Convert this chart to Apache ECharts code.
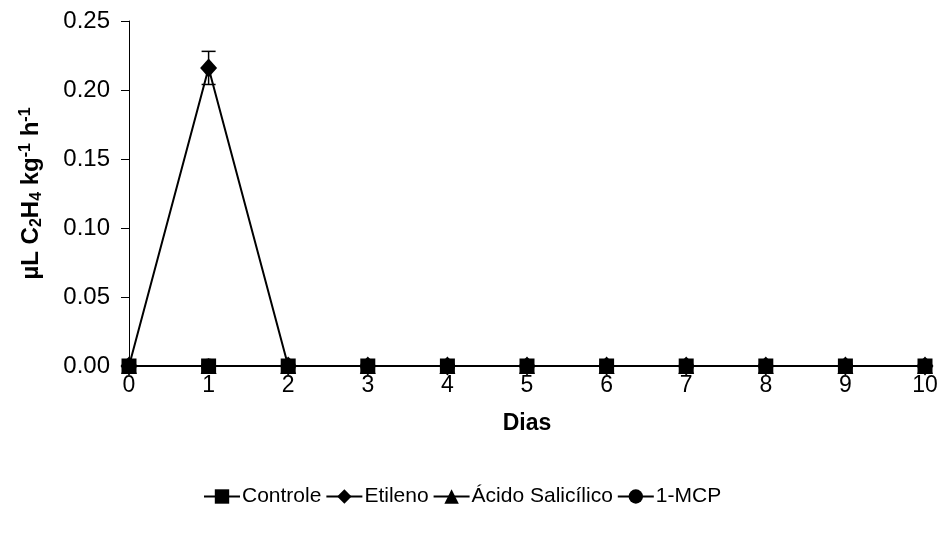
<!DOCTYPE html>
<html>
<head>
<meta charset="utf-8">
<script src="https://cdn.jsdelivr.net/npm/echarts@6/dist/echarts.min.js"></script>
<style>
  html, body { margin: 0; padding: 0; background: #fff; }
  #chart { width: 943px; height: 533px; }
</style>
</head>
<body>
<div id="chart"></div>
<script>
// Ethylene production (µL C2H4 kg-1 h-1) over storage days
const dias = [0, 1, 2, 3, 4, 5, 6, 7, 8, 9, 10];
const controle = [0, 0, 0, 0, 0, 0, 0, 0, 0, 0, 0];
const etileno = [0, 0.216, 0, 0, 0, 0, 0, 0, 0, 0, 0];
const etilenoErro = [0, 0.012, 0, 0, 0, 0, 0, 0, 0, 0, 0];
const acidoSalicilico = [0, 0, 0, 0, 0, 0, 0, 0, 0, 0, 0];
const mcp = [0, 0, 0, 0, 0, 0, 0, 0, 0, 0, 0];
const yTicks = [0, 0.05, 0.10, 0.15, 0.20, 0.25];

const FONT = '"Liberation Sans", Arial, sans-serif';
const pairs = arr => dias.map((d, i) => [d, arr[i]]);

const chart = echarts.init(document.getElementById('chart'), null, { renderer: 'canvas' });

const lineBase = {
  type: 'line',
  lineStyle: { color: '#000', width: 2 },
  itemStyle: { color: '#000' },
  emphasis: { disabled: true },
  animation: false
};

chart.setOption({
  backgroundColor: '#fff',
  textStyle: { fontFamily: FONT },
  grid: { left: 129, right: 18, top: 21, bottom: 167, containLabel: false },
  legend: {
    left: 198,
    top: 481,
    itemWidth: 36,
    itemHeight: 18,
    itemGap: 4,
    textStyle: { fontFamily: FONT, fontSize: 21, color: '#000', padding: [0, 0, 0, -3] },
    data: ['Controle', 'Etileno', 'Ácido Salicílico', '1-MCP']
  },
  xAxis: {
    type: 'value',
    min: 0, max: 10, interval: 1,
    name: 'Dias',
    nameLocation: 'middle',
    nameGap: 46,
    nameTextStyle: { fontFamily: FONT, fontSize: 23, fontWeight: 'bold', color: '#000' },
    axisLine: { lineStyle: { color: '#000', width: 1 } },
    axisTick: { show: false },
    splitLine: { show: false },
    axisLabel: { fontFamily: FONT, fontSize: 23, color: '#000', margin: 8 }
  },
  yAxis: {
    type: 'value',
    min: yTicks[0], max: yTicks[yTicks.length - 1], interval: 0.05,
    name: '{b|µL C}{s|2}{b|H}{s|4}{b| kg}{p|-1}{b| h}{p|-1}',
    nameLocation: 'middle',
    nameRotate: 90,
    nameGap: 84,
    nameTextStyle: {
      color: '#000',
      rich: {
        b: { fontFamily: FONT, fontSize: 24, fontWeight: 'bold', color: '#000', lineHeight: 27 },
        s: { fontFamily: FONT, fontSize: 16, fontWeight: 'bold', color: '#000', lineHeight: 15, verticalAlign: 'bottom' },
        p: { fontFamily: FONT, fontSize: 16, fontWeight: 'bold', color: '#000', lineHeight: 15, verticalAlign: 'top' }
      }
    },
    axisLine: { show: true, lineStyle: { color: '#000', width: 1 } },
    axisTick: { show: true, length: 8, lineStyle: { color: '#000' } },
    splitLine: { show: false },
    axisLabel: { fontFamily: FONT, fontSize: 24, color: '#000', margin: 19,
      formatter: v => v.toFixed(2) }
  },
  series: [
    Object.assign({}, lineBase, { name: 'Controle', data: pairs(controle), symbol: 'rect', symbolSize: 15, z: 6 }),
    Object.assign({}, lineBase, { name: 'Etileno', data: pairs(etileno), symbol: 'diamond', symbolSize: [17, 19], z: 5 }),
    Object.assign({}, lineBase, { name: 'Ácido Salicílico', data: pairs(acidoSalicilico), symbol: 'triangle', symbolSize: 16, z: 3 }),
    Object.assign({}, lineBase, { name: '1-MCP', data: pairs(mcp), symbol: 'circle', symbolSize: 15, z: 2 }),
    {
      type: 'custom',
      name: 'erro',
      silent: true,
      animation: false,
      z: 7,
      data: dias.map((d, i) => [d, etileno[i] - etilenoErro[i], etileno[i] + etilenoErro[i]]),
      renderItem: (params, api) => {
        const lo = api.coord([api.value(0), api.value(1)]);
        const hi = api.coord([api.value(0), api.value(2)]);
        if (Math.abs(lo[1] - hi[1]) < 0.5) return null;
        const w = 7;
        const st = { stroke: '#000', lineWidth: 1.5 };
        return {
          type: 'group',
          children: [
            { type: 'line', shape: { x1: hi[0], y1: hi[1], x2: lo[0], y2: lo[1] }, style: st },
            { type: 'line', shape: { x1: hi[0] - w, y1: hi[1], x2: hi[0] + w, y2: hi[1] }, style: st },
            { type: 'line', shape: { x1: lo[0] - w, y1: lo[1], x2: lo[0] + w, y2: lo[1] }, style: st }
          ]
        };
      }
    }
  ]
});
</script>
</body>
</html>
